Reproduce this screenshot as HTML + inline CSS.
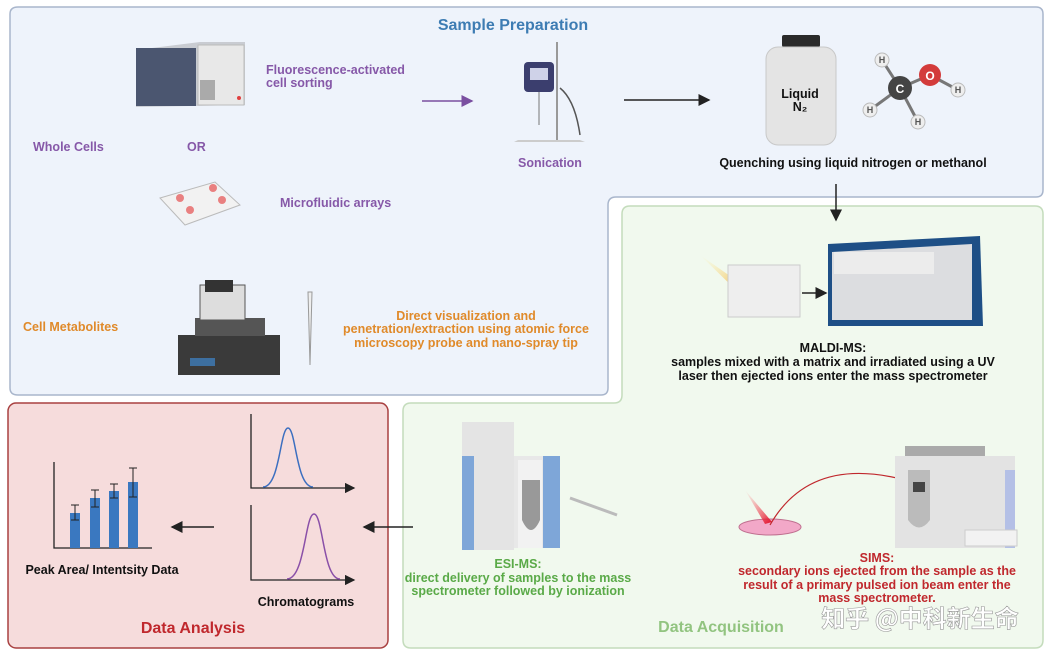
<!DOCTYPE html>
<html><head><meta charset="utf-8"><style>
body{margin:0;background:#fff}
svg{display:block}
text{font-family:"Liberation Sans Narrow","Liberation Sans","Noto Sans CJK SC",sans-serif;font-weight:bold}
</style></head><body>
<svg width="1053" height="660" viewBox="0 0 1053 660" xmlns="http://www.w3.org/2000/svg">
<defs>
<marker id="ak" markerWidth="8" markerHeight="8" refX="7" refY="4" orient="auto"><path d="M0,0 L8,4 L0,8z" fill="#222"/></marker>
<marker id="ap" markerWidth="8" markerHeight="8" refX="7" refY="4" orient="auto"><path d="M0,0 L8,4 L0,8z" fill="#7a4fa0"/></marker>
<marker id="ar" markerWidth="8" markerHeight="8" refX="7" refY="4" orient="auto"><path d="M0,0 L8,4 L0,8z" fill="#c0282d"/></marker>
<linearGradient id="beam" x1="0" y1="0" x2="1" y2="1"><stop offset="0" stop-color="#fff3a0" stop-opacity="0"/><stop offset="1" stop-color="#f0a020"/></linearGradient>
<linearGradient id="beamr" x1="0" y1="0" x2="1" y2="1"><stop offset="0" stop-color="#ff8080" stop-opacity="0"/><stop offset="1" stop-color="#e0102a"/></linearGradient>
</defs>
<!-- blue box -->
<path d="M18,7 H1036 Q1043,7 1043,14 V190 Q1043,197 1036,197 H616 Q608,197 608,205 V388 Q608,395 601,395 H18 Q10,395 10,388 V14 Q10,7 18,7Z" fill="#eef3fb" stroke="#a9b6cc" stroke-width="1.5"/>
<!-- green box -->
<path d="M630,206 H1035 Q1043,206 1043,214 V640 Q1043,648 1035,648 H411 Q403,648 403,640 V411 Q403,403 411,403 H614 Q622,403 622,395 V214 Q622,206 630,206Z" fill="#f1f9ee" stroke="#c4dcbc" stroke-width="1.5"/>
<!-- red box -->
<rect x="8" y="403" width="380" height="245" rx="8" fill="#f6dcdc" stroke="#a84040" stroke-width="1.5"/>

<text x="513" y="30" font-size="16" fill="#3d7cb3" text-anchor="middle">Sample Preparation</text>
<!-- FACS machine -->
<path d="M136,50 L200,42 L245,42 L245,105 L136,107Z" fill="#c9ccd2"/>
<rect x="136" y="48" width="60" height="58" fill="#4b5670"/>
<rect x="198" y="45" width="46" height="60" fill="#e8e8e8" stroke="#bbb"/>
<rect x="200" y="80" width="15" height="20" fill="#aaa"/>
<circle cx="239" cy="98" r="2" fill="#e04040"/>
<text x="266" y="74" font-size="12.5" fill="#8658a8">Fluorescence-activated</text>
<text x="266" y="87" font-size="12.5" fill="#8658a8">cell sorting</text>
<text x="33" y="151" font-size="12.5" fill="#8658a8">Whole Cells</text>
<text x="187" y="151" font-size="12.5" fill="#8658a8">OR</text>
<line x1="422" y1="101" x2="472" y2="101" stroke="#7a4fa0" stroke-width="1.5" marker-end="url(#ap)"/>
<!-- sonicator -->
<line x1="557" y1="42" x2="557" y2="140" stroke="#999" stroke-width="2"/>
<path d="M518,140 L580,140 L585,142 L514,142Z" fill="#ccc"/>
<rect x="524" y="62" width="30" height="30" rx="4" fill="#3b3e6e"/>
<rect x="530" y="68" width="18" height="12" fill="#cfd2e8"/>
<line x1="539" y1="92" x2="539" y2="125" stroke="#777"/>
<path d="M560,88 Q575,100 580,135" fill="none" stroke="#555" stroke-width="1.5"/>
<text x="550" y="167" font-size="12.5" fill="#8658a8" text-anchor="middle">Sonication</text>
<line x1="624" y1="100" x2="709" y2="100" stroke="#222" stroke-width="1.5" marker-end="url(#ak)"/>
<!-- N2 bottle -->
<rect x="782" y="35" width="38" height="12" rx="2" fill="#2a2a2a"/>
<rect x="766" y="47" width="70" height="98" rx="12" fill="#e4e4e4" stroke="#c8c8c8"/>
<text x="800" y="98" font-size="12.5" fill="#111" text-anchor="middle">Liquid</text>
<text x="800" y="111" font-size="12.5" fill="#111" text-anchor="middle">N₂</text>
<!-- methanol -->
<g stroke="#777" stroke-width="3"><line x1="900" y1="88" x2="930" y2="75"/><line x1="900" y1="88" x2="882" y2="60"/><line x1="900" y1="88" x2="870" y2="110"/><line x1="900" y1="88" x2="918" y2="122"/><line x1="930" y1="75" x2="958" y2="90"/></g>
<circle cx="900" cy="88" r="12" fill="#444"/><text x="900" y="93" font-size="12" fill="#fff" text-anchor="middle">C</text>
<circle cx="930" cy="75" r="11" fill="#d33b3b"/><text x="930" y="80" font-size="12" fill="#fff" text-anchor="middle">O</text>
<g fill="#eee" stroke="#bbb"><circle cx="882" cy="60" r="7"/><circle cx="870" cy="110" r="7"/><circle cx="918" cy="122" r="7"/><circle cx="958" cy="90" r="7"/></g>
<g font-size="9" fill="#555" text-anchor="middle"><text x="882" y="63">H</text><text x="870" y="113">H</text><text x="918" y="125">H</text><text x="958" y="93">H</text></g>
<text x="853" y="167" font-size="12.5" fill="#111" text-anchor="middle">Quenching using liquid nitrogen or methanol</text>
<line x1="836" y1="184" x2="836" y2="220" stroke="#222" stroke-width="1.5" marker-end="url(#ak)"/>
<!-- microfluidic -->
<path d="M160,198 L215,182 L240,205 L185,225Z" fill="#f2f2f2" stroke="#bbb"/>
<g fill="#e98080"><circle cx="180" cy="198" r="4"/><circle cx="190" cy="210" r="4"/><circle cx="213" cy="188" r="4"/><circle cx="222" cy="200" r="4"/></g>
<text x="280" y="207" font-size="12.5" fill="#8658a8">Microfluidic arrays</text>
<text x="23" y="331" font-size="12.5" fill="#e08a2a">Cell Metabolites</text>
<!-- AFM -->
<rect x="178" y="335" width="102" height="40" fill="#3a3a3a"/>
<rect x="195" y="318" width="70" height="18" fill="#555"/>
<rect x="200" y="285" width="45" height="35" fill="#ddd" stroke="#555"/>
<rect x="205" y="280" width="28" height="12" fill="#333"/>
<rect x="190" y="358" width="25" height="8" fill="#3d6fa0"/>
<path d="M308,292 L312,292 L310,365Z" fill="#eee" stroke="#999"/>
<g font-size="12.5" fill="#e08a2a" text-anchor="middle"><text x="466" y="320">Direct visualization and</text><text x="466" y="333">penetration/extraction using atomic force</text><text x="466" y="347">microscopy probe and nano-spray tip</text></g>
<!-- MALDI -->
<path d="M700,255 L750,290 L742,296Z" fill="url(#beam)"/>
<rect x="728" y="265" width="72" height="52" fill="#eee" stroke="#ccc"/>
<line x1="802" y1="293" x2="826" y2="293" stroke="#222" stroke-width="1.5" marker-end="url(#ak)"/>
<path d="M828,244 L980,236 L983,326 L828,326Z" fill="#1e4f86"/>
<path d="M832,252 L972,244 L972,320 L832,320Z" fill="#dcdde0"/>
<rect x="834" y="252" width="100" height="22" fill="#ececec"/>
<g font-size="12.5" fill="#111" text-anchor="middle"><text x="833" y="352">MALDI-MS:</text><text x="833" y="366">samples mixed with a matrix and irradiated using a UV</text><text x="833" y="380">laser then ejected ions enter the mass spectrometer</text></g>
<!-- ESI -->
<rect x="462" y="422" width="52" height="128" fill="#e4e4e4"/>
<rect x="462" y="456" width="12" height="94" fill="#7ea6d8"/>
<rect x="514" y="456" width="46" height="92" fill="#e8e8e8"/>
<rect x="543" y="456" width="17" height="92" fill="#7ea6d8"/>
<rect x="518" y="460" width="24" height="88" fill="#f2f2f2"/>
<path d="M522,480 L540,480 L540,520 Q531,540 522,520Z" fill="#999"/>
<line x1="570" y1="498" x2="617" y2="515" stroke="#bbb" stroke-width="3"/>
<g font-size="12.5" fill="#5aaa48" text-anchor="middle"><text x="518" y="568">ESI-MS:</text><text x="518" y="582">direct delivery of samples to the mass</text><text x="518" y="595">spectrometer followed by ionization</text></g>
<!-- SIMS -->
<ellipse cx="770" cy="527" rx="31" ry="8" fill="#f2a8c8" stroke="#c07090"/>
<path d="M745,490 L772,522 L765,524Z" fill="url(#beamr)"/>
<path d="M770,525 Q810,455 905,480" fill="none" stroke="#c0282d" stroke-width="1.2" marker-end="url(#ar)"/>
<rect x="905" y="446" width="80" height="10" fill="#aaa"/>
<rect x="895" y="456" width="120" height="92" fill="#e3e3e3"/>
<rect x="1005" y="470" width="10" height="78" fill="#b4c0e6"/>
<rect x="965" y="530" width="52" height="16" fill="#f2f2f2" stroke="#ccc"/>
<path d="M908,470 L930,470 L930,520 Q919,535 908,520Z" fill="#bbb"/>
<rect x="913" y="482" width="12" height="10" fill="#444"/>
<g font-size="12.5" fill="#c0282d" text-anchor="middle"><text x="877" y="562">SIMS:</text><text x="877" y="575">secondary ions ejected from the sample as the</text><text x="877" y="589">result of a primary pulsed ion beam enter the</text><text x="877" y="602">mass spectrometer.</text></g>
<text x="721" y="632" font-size="16" fill="#92c480" text-anchor="middle">Data Acquisition</text>
<text x="920" y="627" font-size="24" fill="#fff" stroke="#999" stroke-width="0.6" font-weight="normal" text-anchor="middle" style="font-family:'Noto Sans CJK SC',sans-serif">知乎 @中科新生命</text>
<!-- Data analysis -->
<line x1="413" y1="527" x2="364" y2="527" stroke="#222" stroke-width="1.5" marker-end="url(#ak)"/>
<line x1="214" y1="527" x2="172" y2="527" stroke="#222" stroke-width="1.5" marker-end="url(#ak)"/>
<g stroke="#222" stroke-width="1.3" fill="none">
<path d="M251,414 V488 H354" marker-end="url(#ak)"/>
<path d="M251,505 V580 H354" marker-end="url(#ak)"/>
<path d="M54,462 V548 H152"/>
</g>
<path d="M263,487 C280,487 280,428 288,428 C296,428 296,487 313,487" fill="none" stroke="#3c6fc0" stroke-width="1.5"/>
<path d="M287,579 C305,579 305,514 314,514 C323,514 323,579 340,579" fill="none" stroke="#8a50a8" stroke-width="1.5"/>
<g fill="#3a78c0"><rect x="70" y="513" width="10" height="35"/><rect x="90" y="498" width="10" height="50"/><rect x="109" y="491" width="10" height="57"/><rect x="128" y="482" width="10" height="66"/></g>
<g stroke="#222" stroke-width="1"><path d="M75,505V520M71,505H79M71,520H79M95,490V507M91,490H99M91,507H99M114,484V498M110,484H118M110,498H118M133,468V497M129,468H137M129,497H137"/></g>
<text x="102" y="574" font-size="12.5" fill="#111" text-anchor="middle">Peak Area/ Intentsity Data</text>
<text x="306" y="606" font-size="12.5" fill="#111" text-anchor="middle">Chromatograms</text>
<text x="193" y="633" font-size="16" fill="#c0282d" text-anchor="middle">Data Analysis</text>
</svg>
</body></html>
